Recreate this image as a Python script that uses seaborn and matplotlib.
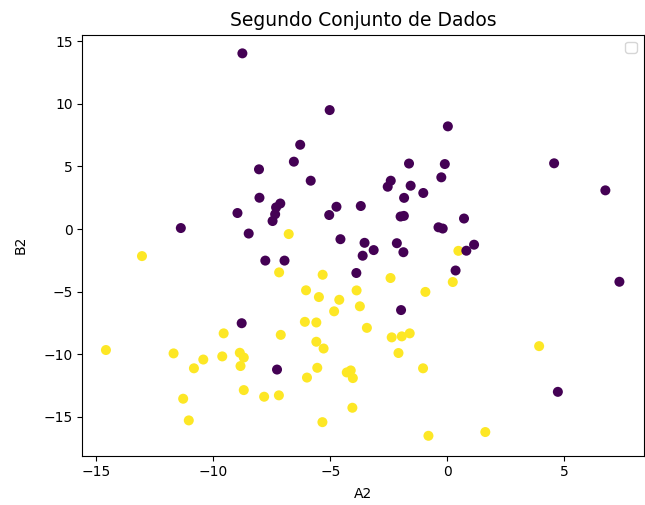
import matplotlib
matplotlib.use("Agg")
import matplotlib.pyplot as plt
import seaborn as sns
import pandas as pd

# Class 1 points (yellow)
a2_class1 = [-6.78, 0.47, -13.05, -7.19, -5.33, -2.43, 0.23, -6.04, -5.49, -4.62,
             -3.88, -3.74, -4.84, -0.94, -6.09, -5.60, -3.44, -9.56, -7.12, -5.60,
             -5.29, -2.38, -1.95, -1.61, -2.09, -14.59, -11.70, -10.43, -9.62, -8.87,
             -8.70, -8.84, -10.83, -5.56, -6.00, -4.30, -4.13, -4.04, -1.04, -11.29,
             -8.70, -7.83, -7.20, -4.06, -11.05, -5.34, -0.81, 1.62, 3.92]
b2_class1 = [-0.40, -1.74, -2.16, -3.46, -3.65, -3.91, -4.23, -4.89, -5.43, -5.65,
             -4.90, -6.17, -6.57, -5.02, -7.41, -7.46, -7.89, -8.33, -8.45, -9.00,
             -9.54, -8.65, -8.57, -8.33, -9.90, -9.66, -9.93, -10.42, -10.17, -9.88,
             -10.26, -10.94, -11.12, -11.08, -11.86, -11.45, -11.29, -11.90, -11.12, -13.55,
             -12.86, -13.39, -13.28, -14.27, -15.28, -15.42, -16.51, -16.21, -9.35]

# Class 0 points (purple)
a2_class0 = [-8.76, -5.03, -6.29, -6.56, -8.05, -5.84, -8.03, -7.14, -7.32, -7.36,
             -7.47, -8.97, -4.74, -3.70, -5.05, -11.39, -8.49, -4.57, -3.54, -3.62,
             -7.78, -6.96, 0.02, -1.64, -0.11, -0.26, -2.42, -2.55, -1.57, -1.03,
             -1.85, -2.00, -1.86, 0.71, -0.38, -0.20, -2.16, -3.15, -1.88, 0.81,
             1.14, 0.35, -3.89, -1.98, -8.79, -7.28, 4.56, 6.75, 7.35, 4.72]
b2_class0 = [14.03, 9.50, 6.73, 5.38, 4.77, 3.86, 2.50, 2.04, 1.73, 1.18,
             0.64, 1.28, 1.78, 1.84, 1.12, 0.08, -0.36, -0.81, -1.10, -2.13,
             -2.52, -2.52, 8.20, 5.23, 5.19, 4.13, 3.86, 3.38, 3.46, 2.88,
             2.49, 1.00, 1.05, 0.84, 0.14, 0.04, -1.13, -1.68, -1.85, -1.73,
             -1.25, -3.31, -3.51, -6.47, -7.52, -11.22, 5.25, 3.09, -4.21, -13.00]

df = pd.DataFrame({
    "A2": a2_class1 + a2_class0,
    "B2": b2_class1 + b2_class0,
    "grupo": [1] * len(a2_class1) + [0] * len(a2_class0),
})

viridis = plt.get_cmap("viridis")
palette = {0: viridis(0.0), 1: viridis(1.0)}

fig = plt.figure(figsize=(6.45, 5.05), dpi=100)
ax = fig.add_axes([0.1276, 0.0976, 0.8701, 0.8337])

sns.scatterplot(data=df, x="A2", y="B2", hue="grupo", palette=palette,
                s=52, linewidth=0, legend=False, ax=ax)

ax.set_xlim(-15.6, 8.38)
ax.set_ylim(-18.1, 15.52)
ax.set_title("Segundo Conjunto de Dados", fontsize=13.5)
ax.set_xlabel("A2", labelpad=5.5)
ax.set_ylabel("B2", labelpad=11)
ax.legend()

fig.savefig("out.png", dpi=100)
